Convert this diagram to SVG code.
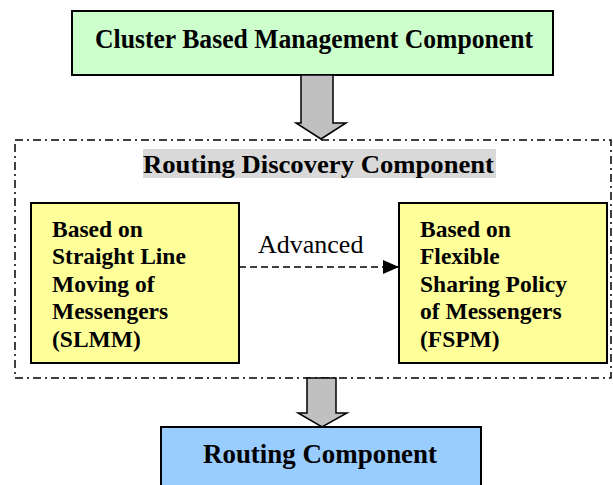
<svg xmlns="http://www.w3.org/2000/svg" width="613" height="485" viewBox="0 0 613 485">
<style>
.box{stroke:#000;stroke-width:2}
.t{font-family:"Liberation Serif",serif;font-weight:bold;fill:#000}
.mid{font-size:23.5px}
.fat{fill:#C0C0C0;stroke:#000;stroke-width:1.5}
</style>
<defs>
<marker id="ah" markerWidth="16" markerHeight="14" refX="15" refY="7" orient="auto" markerUnits="userSpaceOnUse">
<path d="M0,0 L16,7 L0,14 Z" fill="#000"/>
</marker>
</defs>
<rect width="613" height="485" fill="#fff"/>
<g id="container">
<rect x="15" y="140" width="596" height="238" fill="none" stroke="#000" stroke-width="1.5" stroke-dasharray="8 4 2 4"/>
<rect x="143" y="149" width="353" height="29" fill="#D9D9D9"/>
<text class="t" font-size="25" x="143" y="173" textLength="351" lengthAdjust="spacingAndGlyphs">Routing Discovery Component</text>
</g>
<g id="cluster">
<rect class="box" x="72" y="11" width="481" height="64" fill="#CCFFCC"/>
<text class="t" font-size="26.5" x="95" y="48" textLength="438" lengthAdjust="spacingAndGlyphs">Cluster Based Management Component</text>
</g>
<g id="slmm">
<rect class="box" x="31" y="203" width="208" height="160" fill="#FFFF99"/>
<text class="t mid" x="52" y="237">Based on</text>
<text class="t mid" x="52" y="264">Straight Line</text>
<text class="t mid" x="52" y="292">Moving of</text>
<text class="t mid" x="52" y="319">Messengers</text>
<text class="t mid" x="52" y="347">(SLMM)</text>
</g>
<g id="fspm">
<rect class="box" x="399" y="203" width="208" height="160" fill="#FFFF99"/>
<text class="t mid" x="420" y="237">Based on</text>
<text class="t mid" x="420" y="264">Flexible</text>
<text class="t mid" x="420" y="292">Sharing Policy</text>
<text class="t mid" x="420" y="319">of Messengers</text>
<text class="t mid" x="420" y="347">(FSPM)</text>
</g>
<g id="routing">
<rect class="box" x="161" y="427" width="320" height="70" fill="#99CCFF"/>
<text class="t" font-size="27" x="203" y="463" textLength="234" lengthAdjust="spacingAndGlyphs">Routing Component</text>
</g>
<g id="connectors">
<path class="fat" d="M301,75 L333,75 L333,123 L346,123 L321,139 L296,123 L301,123 Z"/>
<path class="fat" d="M307,378 L336,378 L336,413 L347,413 L322,427 L298,413 L307,413 Z"/>
<line x1="239" y1="267" x2="398" y2="267" stroke="#000" stroke-width="1.5" stroke-dasharray="7 4" marker-end="url(#ah)"/>
<text x="258" y="253" font-family="Liberation Serif,serif" font-size="26" fill="#000">Advanced</text>
</g>
</svg>
